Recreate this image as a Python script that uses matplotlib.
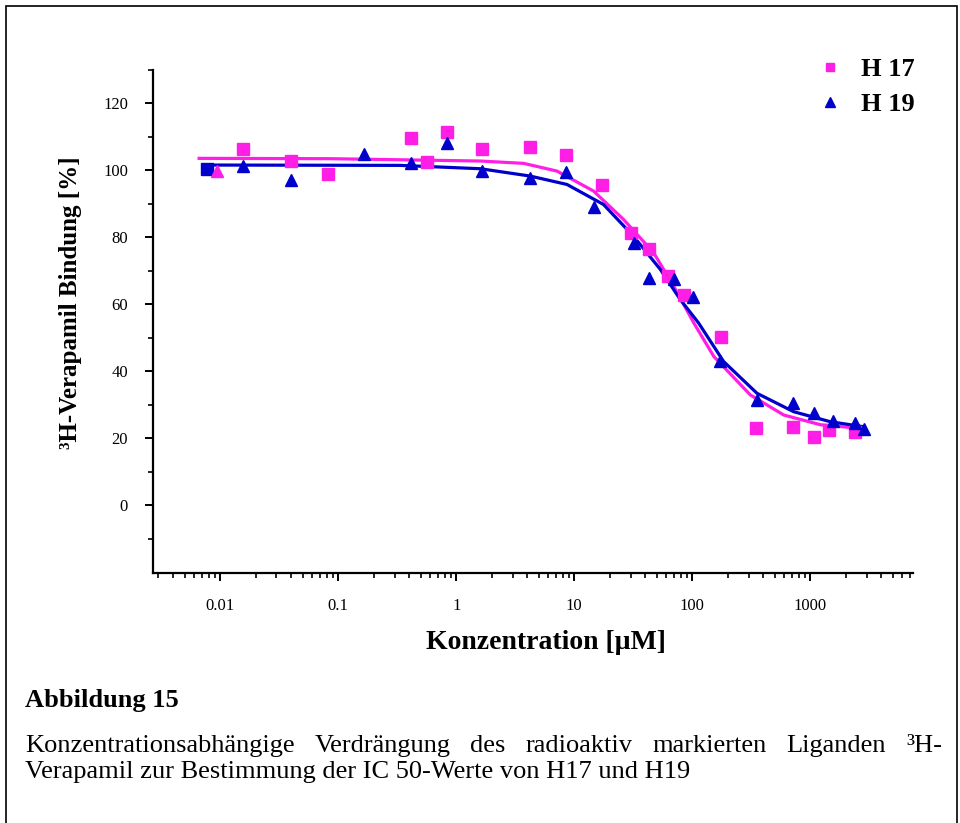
import matplotlib
matplotlib.use("Agg")
import matplotlib.pyplot as plt
from matplotlib.ticker import FixedLocator, LogLocator, NullFormatter, FixedFormatter
from matplotlib.patches import Rectangle

# measured points (concentration in uM, binding in %)
h17_conc = [0.0157, 0.040, 0.082, 0.41, 0.57, 0.83, 1.65, 4.18, 8.55, 17.3,
            30.2, 43.0, 62.0, 85.5, 176, 348, 708, 1070, 1440, 2370]
h17_bind = [106.3, 102.8, 98.9, 109.6, 102.5, 111.5, 106.5, 107.1, 104.6, 95.5,
            81.4, 76.6, 68.5, 62.8, 50.2, 23.1, 23.3, 20.4, 22.5, 21.8]
h19_conc = [0.0157, 0.040, 0.164, 0.41, 0.83, 1.65, 4.18, 8.5, 14.6, 32.2,
            42.6, 69.4, 102, 173, 353, 708, 1070, 1560, 2390, 2870]
h19_bind = [101.3, 97.1, 104.8, 102.1, 108.1, 99.8, 97.8, 99.5, 89.1, 78.3,
            67.9, 67.4, 62.1, 42.9, 31.4, 30.4, 27.6, 25.0, 24.5, 22.8]

# first points, drawn with swapped symbols in the original
h17_first = (0.0094, 99.7)
h19_first = (0.0078, 100.3)

# fitted curves
h17_fit_conc = [0.00664, 0.0855, 1.60, 3.72, 7.13, 14.6, 26.2, 47.0, 69.5, 103,
                152, 310, 595, 1217, 2489]
h17_fit_bind = [103.6, 103.5, 102.8, 102.1, 99.8, 93.8, 85.3, 75.4, 65.4, 54.4,
                44.4, 32.9, 26.9, 24.0, 23.0]
h19_fit_conc = [0.00823, 0.335, 1.60, 4.24, 8.67, 17.7, 31.8, 53.6, 79.1, 113,
                184, 353, 721, 1476, 2831]
h19_fit_bind = [101.6, 101.5, 100.5, 98.3, 95.8, 89.8, 80.3, 70.4, 61.4, 54.4,
                42.9, 33.4, 27.9, 24.9, 23.4]

x_ticks = [0.01, 0.1, 1, 10, 100, 1000]
x_tick_labels = ["0.01", "0.1", "1", "10", "100", "1000"]
y_ticks = [0, 20, 40, 60, 80, 100, 120]

MAGENTA = "#FF1EE6"
BLUE = "#0000CC"
SERIF = "Liberation Serif"

plt.rcParams['font.family'] = [SERIF, 'DejaVu Serif']

fig = plt.figure(figsize=(9.6, 8.23), dpi=100)
ax = fig.add_axes([153 / 960, 250 / 823, 760 / 960, 503 / 823])

ax.plot(h17_fit_conc, h17_fit_bind, color=MAGENTA, lw=2.3, zorder=2)
ax.plot(h19_fit_conc, h19_fit_bind, color=BLUE, lw=2.3, zorder=2)

ax.plot(h17_conc, h17_bind, ls="none", marker="s", ms=8, color=MAGENTA,
        label="H 17", zorder=3)
ax.plot(h19_conc, h19_bind, ls="none", marker="^", ms=8.5, color=BLUE,
        label="H 19", zorder=3)
ax.plot(*h19_first, ls="none", marker="s", ms=8, color=BLUE, zorder=3)
ax.plot(*h17_first, ls="none", marker="^", ms=8.5, color=MAGENTA, zorder=3)

ax.set_xscale("log")
ax.set_xlim(0.0027, 7400)
ax.set_ylim(-20.3, 130)

ax.xaxis.set_major_locator(FixedLocator(x_ticks))
ax.xaxis.set_major_formatter(FixedFormatter(x_tick_labels))
ax.xaxis.set_minor_locator(LogLocator(base=10, subs=range(2, 10), numticks=20))
ax.xaxis.set_minor_formatter(NullFormatter())
ax.yaxis.set_major_locator(FixedLocator(y_ticks))
ax.yaxis.set_minor_locator(FixedLocator(range(-10, 131, 20)))

for s in ["top", "right"]:
    ax.spines[s].set_visible(False)
for s in ["left", "bottom"]:
    ax.spines[s].set_linewidth(1.6)

ax.tick_params(which="major", direction="out", length=6, width=1.4,
               labelsize=12, pad=12)
ax.tick_params(which="minor", direction="out", length=3.5, width=1.2)
ax.tick_params(axis="x", which="major", pad=12)

ax.set_ylabel("³H-Verapamil Bindung [%]", fontsize=18, fontweight="bold")
ax.yaxis.set_label_coords(-0.093, 0.537)
ax.set_xlabel("Konzentration [µM]", fontsize=20, fontweight="bold")
ax.xaxis.set_label_coords(0.517, -0.114)

ax.legend(loc="upper left", bbox_to_anchor=(800 / 960, 1 - 39 / 823),
          bbox_transform=fig.transFigure, frameon=False, markerscale=0.8,
          handlelength=0.9, handletextpad=0.7, labelspacing=0.45,
          borderpad=0.2, prop={"family": SERIF, "weight": "bold", "size": 19})

# frame around the whole figure
fig.patches.append(Rectangle((6 / 960, -0.05), 951 / 960, 1.05 - 6 / 823,
                             transform=fig.transFigure, fill=False,
                             edgecolor="black", lw=1.2))

# caption
fig.text(25 / 960, 1 - 700 / 823, "Abbildung 15", fontsize=19,
         fontweight="bold", va="center", ha="left")

line1 = "Konzentrationsabhängige Verdrängung des radioaktiv markierten Liganden ³H-".split()
renderer = fig.canvas.get_renderer()
words = [fig.text(0, 1 - 746 / 823, w, fontsize=19, va="center", ha="left")
         for w in line1]
widths = [t.get_window_extent(renderer).width for t in words]
left, right = 25, 942
gap = (right - left - sum(widths)) / (len(words) - 1)
x = left
for t, w in zip(words, widths):
    t.set_x(x / 960)
    x += w + gap

fig.text(25 / 960, 1 - 772 / 823,
         "Verapamil zur Bestimmung der IC 50-Werte von H17 und H19",
         fontsize=19, va="center", ha="left")

fig.savefig("out.png", dpi=100)
